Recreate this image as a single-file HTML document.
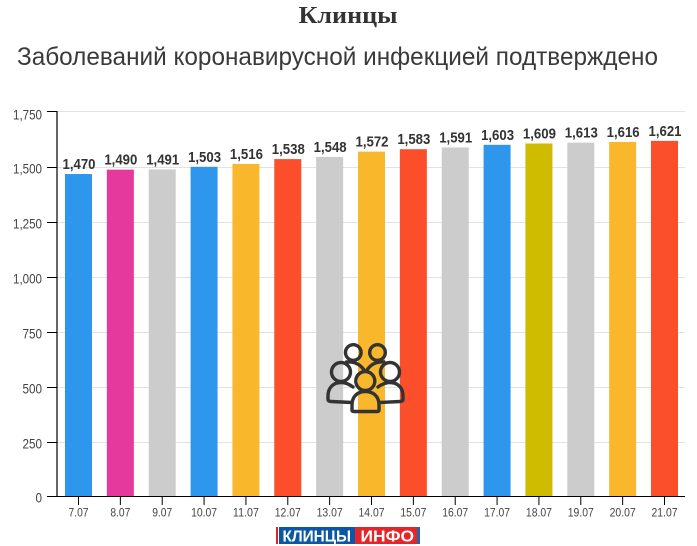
<!DOCTYPE html>
<html lang="ru">
<head>
<meta charset="utf-8">
<title>Клинцы</title>
<style>
html,body{margin:0;padding:0;background:#fff;width:697px;height:546px;overflow:hidden}
svg{display:block}
text{font-family:"Liberation Sans","DejaVu Sans",sans-serif}
</style>
</head>
<body>
<svg id="chart" width="697" height="546" viewBox="0 0 697 546">
  <text x="348" y="23" text-anchor="middle" textLength="99" lengthAdjust="spacingAndGlyphs" style="font-family:'Liberation Serif',serif;font-weight:bold;font-size:24px;fill:#333">Клинцы</text>
  <text x="17" y="65" textLength="641" lengthAdjust="spacingAndGlyphs" style="font-size:25px;fill:#3a3a3a">Заболеваний коронавирусной инфекцией подтверждено</text>
  <g id="grid"></g>
  <g id="bars"></g>
  <g id="axes"></g>
  <g id="labels"></g>
  <g fill="none" stroke="#333" stroke-width="3.4" stroke-linecap="round" stroke-linejoin="round">
    <circle cx="353.300" cy="352.500" r="7.800"/>
    <circle cx="377.500" cy="352.500" r="7.800"/>
    <path d="M346.500 362 Q358 361 364 370"/>
    <path d="M384 362 Q373 361 367 370"/>
    <circle cx="341" cy="372" r="9.500"/>
    <circle cx="390" cy="372" r="9.500"/>
    <path d="M353 387 Q347 382.500 341 382.500 C333 382.500 328 388 328 396 L328 399 Q328 401.500 331 401.500 L352 402.500"/>
    <path d="M378 387 Q384 382.500 390 382.500 C398 382.500 403 388 403 396 L403 399 Q403 401.500 400 401.500 L379 402.500"/>
    <circle cx="365.300" cy="381" r="9.500"/>
    <path d="M352 410 L352 405 C352 396 358 391.500 365.300 391.500 C373 391.500 379 396 379 405 L379 410 Q379 411.500 377 411.500 L354 411.500 Q352 411.500 352 410 Z"/>
  </g>
  <g>
    <rect x="276" y="527" width="144" height="17" fill="#fff"/>
    <rect x="276" y="527" width="2" height="17" fill="#d9262a"/>
    <rect x="279" y="527" width="76" height="17" fill="#0c57a4"/>
    <rect x="355" y="527" width="62" height="17" fill="#e3262a"/>
    <rect x="417" y="527" width="3" height="17" fill="#2a62a8"/>
    <text x="282.500" y="541.500" textLength="68.500" lengthAdjust="spacingAndGlyphs" style="font-size:16px;font-weight:bold;fill:#fff">КЛИНЦЫ</text>
    <text x="360.500" y="541.500" textLength="53.500" lengthAdjust="spacingAndGlyphs" style="font-size:16px;font-weight:bold;fill:#fff">ИНФО</text>
  </g>
</svg>
<script>
const categories = ['7.07','8.07','9.07','10.07','11.07','12.07','13.07','14.07','15.07','16.07','17.07','18.07','19.07','20.07','21.07'];
const seriesValues = [1470,1490,1491,1503,1516,1538,1548,1572,1583,1591,1603,1609,1613,1616,1621];
const barColors = ['#2f96ee','#e5399d','#cccccc','#2f96ee','#f9b82b','#fa4f2a','#cccccc','#f9b82b','#fa4f2a','#cccccc','#2f96ee','#cfbb00','#cccccc','#f9b82b','#fa4f2a'];
const yTicks = [0,250,500,750,1000,1250,1500,1750];

const NS = 'http://www.w3.org/2000/svg';
const yScale = v => 497 - v * 0.2197;
const xScale = i => 78.5 + i * (586 / (categories.length - 1));
const fmt = v => String(v).replace(/\B(?=(\d{3})+$)/g, ',');
const maxTick = Math.max(...yTicks);
const tickY = t => Math.floor(yScale(t) - (t === maxTick ? 1 : 0)) + 0.5 - (t === 0 ? 1 : 0);

function make(tag, attrs, parent, txt) {
  const el = document.createElementNS(NS, tag);
  for (const k in attrs) el.setAttribute(k, attrs[k]);
  if (txt !== undefined) el.textContent = txt;
  parent.appendChild(el);
  return el;
}
const gGrid = document.getElementById('grid');
const gBars = document.getElementById('bars');
const gAxes = document.getElementById('axes');
const gLabels = document.getElementById('labels');

yTicks.forEach(t => {
  const y = tickY(t);
  if (t > 0) {
    const g = make('line', {x1: 57, x2: 685, y1: y, y2: y, stroke: '#e2e2e2', 'stroke-width': 1}, gGrid);
    
    
  }
  const m = make('line', {x1: 47, x2: 57, y1: y, y2: y, stroke: '#000', 'stroke-width': 1}, gAxes);
  
  
  const s = fmt(t);
  const lab = make('text', {x: 42, y: y + (t === maxTick ? 8 : 6), 'text-anchor': 'end', style: 'font-size:14px;fill:#444'}, gAxes, s);
  lab.setAttribute('textLength', s.length > 3 ? 29 : s.length * 6.5);
  lab.setAttribute('lengthAdjust', 'spacingAndGlyphs');
  
  
});

seriesValues.forEach((v, i) => {
  const x = xScale(i);
  const y = yScale(v);
  const b = make('rect', {x: x - 13.5, y: y, width: 27, height: 496.5 - y, fill: barColors[i]}, gBars);
  
  
  const l = make('text', {x: x + 0.5, y: y - 5, 'text-anchor': 'middle', textLength: 33, lengthAdjust: 'spacingAndGlyphs', style: 'font-size:14.5px;font-weight:bold;fill:#333'}, gLabels, fmt(v));
  
  
  const tk = make('line', {x1: x, x2: x, y1: 496, y2: 505, stroke: '#000', 'stroke-width': 1}, gAxes);
  
  
  const c = make('text', {x: x, y: 516.5, 'text-anchor': 'middle', textLength: categories[i].length > 4 ? 26 : 20, lengthAdjust: 'spacingAndGlyphs', style: 'font-size:12px;fill:#444'}, gAxes, categories[i]);
  
  
});

const yAxis = make('line', {x1: 57, x2: 57, y1: 111, y2: 497, stroke: '#000', 'stroke-width': 1.2}, gAxes);


const xAxis = make('line', {x1: 57, x2: 685, y1: 496.5, y2: 496.5, stroke: '#000', 'stroke-width': 1}, gAxes);


</script>
</body>
</html>
